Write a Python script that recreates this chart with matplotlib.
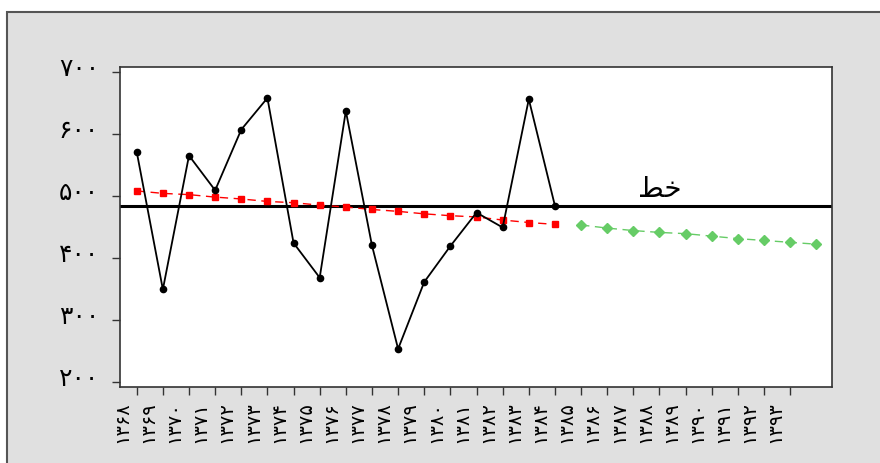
import numpy as np
import matplotlib
matplotlib.use("Agg")
import matplotlib.pyplot as plt
from matplotlib.patches import Rectangle
from matplotlib.transforms import ScaledTranslation

plt.rcParams['font.family'] = ['DejaVu Sans']

# years 1368..1393 written in Persian digits
fa = str.maketrans('0123456789', '۰۱۲۳۴۵۶۷۸۹')
years = [str(y).translate(fa) for y in range(1368, 1394)]

# observed series (1368..1384)
actual = [571, 349, 565, 509, 607, 658, 424, 368, 637, 420,
          253, 361, 419, 473, 449, 656, 484]
# fitted trend (red squares)
fitted = [508, 504, 502, 498, 495, 491, 489, 485, 482, 478,
          475, 471, 468, 466, 461, 457, 454]
# forecast (green diamonds), starts right after the fitted part
forecast = [453, 448, 444, 441, 439, 435, 431, 428, 425, 422]
level = 483  # horizontal reference line
yticks = [200, 300, 400, 500, 600, 700]

fig = plt.figure(figsize=(8.8, 4.63), dpi=100, facecolor='white')
# gray panel with frame
fig.patches.append(Rectangle((7/880, -0.1), 1.1, 1 - 12/463 + 0.1,
                             transform=fig.transFigure, facecolor='#e0e0e0',
                             edgecolor='#555555', lw=1.5, zorder=-1))

ax = fig.add_axes([120/880, 1 - 387/463, 712/880, 320/463])
ax.set_facecolor('white')

x_act = np.arange(len(actual))
x_fit = np.arange(len(fitted))
x_fc = np.arange(len(fitted), len(fitted) + len(forecast))

ax.axhline(level, color='black', lw=2.2, zorder=2)
ax.plot(x_fit, fitted, color='red', ls=(0, (6, 4)), lw=1, marker='s',
        ms=5, zorder=3)
ax.plot(x_fc, forecast, color='#66cc66', ls=(0, (6, 4)), lw=1, marker='D',
        ms=5, zorder=3)
ax.plot(x_act, actual, color='black', lw=1.3, marker='o', ms=4.5, zorder=4)

# label of the horizontal line ("خط" in presentation forms)
ax.text(20.0, 489, '\uFEC2\uFEA7', fontsize=20, ha='center', va='bottom')

ax.set_xlim(-0.64, 26.6)
ax.set_ylim(191.5, 708)

ax.set_yticks(yticks)
ax.set_yticklabels([str(v).translate(fa) for v in yticks], fontsize=18)
ax.set_xticks(np.arange(len(years)))
ax.set_xticklabels(years, rotation=90, fontsize=14, ha='center', va='top')
ax.tick_params(axis='both', length=6, width=1, color='#333333', pad=4)
ax.tick_params(axis='y', pad=9)
for lab in ax.get_xticklabels():
    lab.set_transform(lab.get_transform() + ScaledTranslation(-0.15, 0, fig.dpi_scale_trans))
for lab in ax.get_yticklabels():
    lab.set_transform(lab.get_transform() + ScaledTranslation(0, 0.05, fig.dpi_scale_trans))

for s in ax.spines.values():
    s.set_color('#333333')
    s.set_linewidth(1.2)

fig.savefig('out.png', dpi=100, facecolor=fig.get_facecolor())
